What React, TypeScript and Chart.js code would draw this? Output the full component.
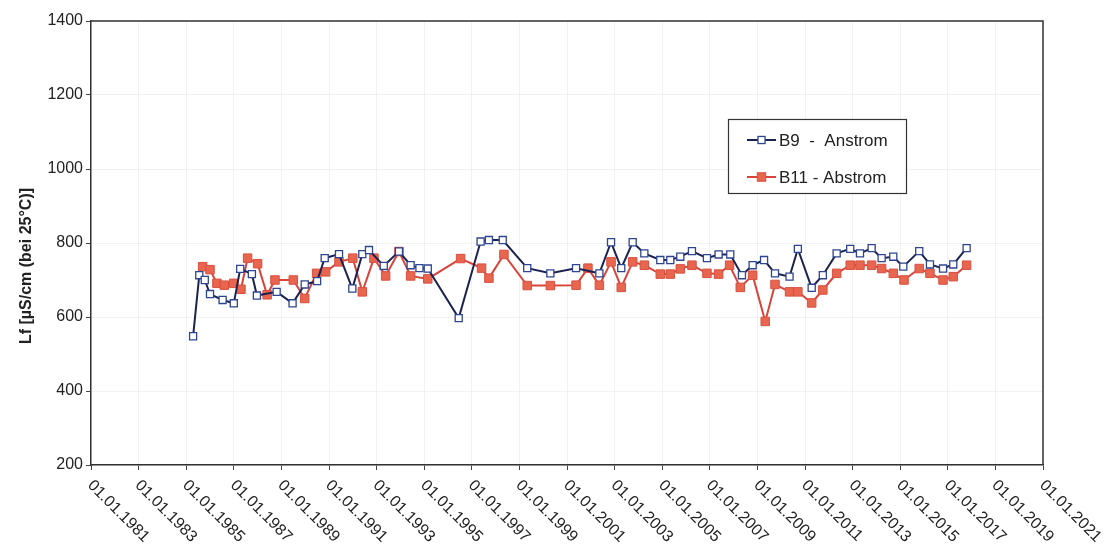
import { useEffect, useRef } from "react";
import { Chart, registerables } from "chart.js";

Chart.register(...registerables);

// ---- data (dates as decimal years) ----
const b9Dates = [
  1985.29, 1985.55, 1985.78, 1986.0, 1986.53, 1987.0, 1987.27, 1987.76, 1987.97, 1988.8,
  1989.47, 1989.98, 1990.5, 1990.82, 1991.42, 1991.98, 1992.4, 1992.68, 1993.3, 1993.94,
  1994.43, 1994.8, 1995.15, 1996.45, 1997.37, 1997.72, 1998.3, 1999.33, 2000.3, 2001.38,
  2002.36, 2002.85, 2003.28, 2003.76, 2004.25, 2004.92, 2005.34, 2005.76, 2006.25, 2006.88,
  2007.37, 2007.86, 2008.35, 2008.8, 2009.28, 2009.74, 2010.35, 2010.7, 2011.28, 2011.75,
  2012.33, 2012.9, 2013.31, 2013.8, 2014.22, 2014.71, 2015.13, 2015.8, 2016.25, 2016.8,
  2017.23, 2017.79,
];
const b9Values = [
  548, 713, 700, 662, 646, 637, 730, 716, 658, 668,
  637, 688, 697, 759, 770, 677, 770, 781, 738, 777,
  740, 732, 731, 597, 804, 808, 808, 732, 718, 732,
  718, 802, 732, 802, 772, 754, 754, 763, 778, 759,
  769, 769, 713, 740, 754, 718, 709, 784, 679, 713,
  772, 784, 772, 786, 759, 763, 736, 778, 742, 731,
  742, 786,
];
const b11Dates = [
  1985.69, 1986.0, 1986.29, 1986.6, 1987.0, 1987.3, 1987.58, 1988.0, 1988.4, 1988.73,
  1989.5, 1989.98, 1990.48, 1990.86, 1991.42, 1992.0, 1992.4, 1992.89, 1993.38, 1993.94,
  1994.43, 1995.15, 1996.53, 1997.41, 1997.72, 1998.35, 1999.33, 2000.3, 2001.38, 2001.88,
  2002.36, 2002.85, 2003.28, 2003.76, 2004.25, 2004.92, 2005.34, 2005.76, 2006.25, 2006.88,
  2007.37, 2007.83, 2008.28, 2008.8, 2009.33, 2009.74, 2010.35, 2010.7, 2011.28, 2011.75,
  2012.33, 2012.9, 2013.31, 2013.8, 2014.22, 2014.71, 2015.16, 2015.8, 2016.25, 2016.8,
  2017.23, 2017.79,
];
const b11Values = [
  736, 728, 691, 686, 691, 675, 759, 744, 660, 700,
  700, 650, 718, 722, 749, 759, 668, 759, 711, 777,
  711, 703, 758, 732, 705, 769, 685, 685, 686, 732,
  686, 749, 680, 749, 740, 716, 716, 730, 740, 718,
  716, 740, 680, 713, 588, 688, 668, 668, 638, 673,
  718, 740, 740, 740, 731, 718, 700, 731, 718, 700,
  709, 740,
];
const xTickYears = [
  1981, 1983, 1985, 1987, 1989, 1991, 1993, 1995, 1997, 1999, 2001,
  2003, 2005, 2007, 2009, 2011, 2013, 2015, 2017, 2019, 2021,
];
const yTickValues = [200, 400, 600, 800, 1000, 1200, 1400];
const seriesNames = ["B9  -  Anstrom", "B11 - Abstrom"];
const yAxisTitle = "Lf [µS/cm (bei 25°C)]";

const FONT = "'Liberation Sans', Arial, Helvetica, sans-serif";
const TEXT = "#222";

const B9_LINE = "#1b2150";
const B9_MARK = "#2e4590";
const B11_LINE = "#d8433a";
const B11_FILL = "#e8654f";
const B11_MARK = "#d9503f";

const decorPlugin = {
  id: "decor",
  afterDraw(chart: any) {
    const ctx = chart.ctx as CanvasRenderingContext2D;
    const area = chart.chartArea;
    const xs = chart.scales.x;

    // frame (top + right)
    ctx.save();
    ctx.strokeStyle = "#333";
    ctx.lineWidth = 1.5;
    ctx.beginPath();
    ctx.moveTo(area.left, area.top);
    ctx.lineTo(area.right, area.top);
    ctx.lineTo(area.right, area.bottom);
    ctx.stroke();
    ctx.restore();

    // rotated x labels starting at the tick
    ctx.save();
    ctx.fillStyle = TEXT;
    ctx.font = `16px ${FONT}`;
    ctx.textAlign = "left";
    ctx.textBaseline = "middle";
    for (const yr of xTickYears) {
      const px = xs.getPixelForValue(yr);
      ctx.save();
      ctx.translate(px - 1, area.bottom + 18);
      ctx.rotate(Math.PI / 4);
      ctx.fillText("01.01." + yr, 0, 0);
      ctx.restore();
    }
    ctx.restore();

    // y axis title
    ctx.save();
    ctx.fillStyle = TEXT;
    ctx.font = `bold 16px ${FONT}`;
    ctx.textAlign = "center";
    ctx.textBaseline = "middle";
    ctx.translate(27, 266);
    ctx.rotate(-Math.PI / 2);
    ctx.fillText(yAxisTitle, 0, 0);
    ctx.restore();

    // legend box
    const bx = 728, by = 119, bw = 178, bh = 74;
    ctx.save();
    ctx.fillStyle = "#fff";
    ctx.fillRect(bx, by, bw, bh);
    ctx.strokeStyle = "#333";
    ctx.lineWidth = 1.2;
    ctx.strokeRect(bx + 0.5, by + 0.5, bw, bh);
    const rows = [140, 177];
    chart.data.datasets.forEach((ds: any, i: number) => {
      const y = rows[i];
      ctx.strokeStyle = ds.borderColor;
      ctx.lineWidth = 2;
      ctx.beginPath();
      ctx.moveTo(747, y);
      ctx.lineTo(776, y);
      ctx.stroke();
      const s = ds.pointRadius * Math.SQRT1_2;
      ctx.fillStyle = ds.pointBackgroundColor;
      ctx.fillRect(761.5 - s, y - s, 2 * s, 2 * s);
      ctx.strokeStyle = ds.pointBorderColor;
      ctx.lineWidth = ds.pointBorderWidth;
      ctx.strokeRect(761.5 - s, y - s, 2 * s, 2 * s);
      ctx.fillStyle = TEXT;
      ctx.font = `17px ${FONT}`;
      ctx.textAlign = "left";
      ctx.textBaseline = "middle";
      ctx.fillText(ds.label, 779, y + 1);
    });
    ctx.restore();
  },
};

export default function App() {
  const ref = useRef<HTMLCanvasElement>(null);

  useEffect(() => {
    const canvas = ref.current;
    if (!canvas) return;
    const chart = new Chart(canvas, {
      type: "line",
      data: {
        datasets: [
          {
            label: seriesNames[0],
            data: b9Dates.map((x, i) => ({ x, y: b9Values[i] })),
            borderColor: B9_LINE,
            borderWidth: 2,
            pointStyle: "rect",
            pointRadius: 5,
            pointBackgroundColor: "#ffffff",
            pointBorderColor: B9_MARK,
            pointBorderWidth: 1.3,
            tension: 0,
            order: 1,
          },
          {
            label: seriesNames[1],
            data: b11Dates.map((x, i) => ({ x, y: b11Values[i] })),
            borderColor: B11_LINE,
            borderWidth: 2,
            pointStyle: "rect",
            pointRadius: 6,
            pointBackgroundColor: B11_FILL,
            pointBorderColor: B11_MARK,
            pointBorderWidth: 1,
            tension: 0,
            order: 2,
          },
        ],
      },
      options: {
        animation: false,
        responsive: false,
        events: [],
        layout: { padding: { left: 0, right: 61, top: 21, bottom: 0 } },
        plugins: {
          legend: { display: false },
          tooltip: { enabled: false },
          title: { display: false },
        },
        scales: {
          x: {
            type: "linear",
            min: 1981,
            max: 2021,
            afterBuildTicks: (s: any) => {
              s.ticks = xTickYears.map((v) => ({ value: v }));
            },
            afterFit: (s: any) => {
              s.height = 84;
            },
            ticks: { display: false },
            grid: {
              color: "rgba(0,0,0,0.05)",
              tickColor: "#444",
              tickLength: 5,
            },
            border: { color: "#333", width: 1.5 },
          },
          y: {
            type: "linear",
            min: 200,
            max: 1400,
            afterBuildTicks: (s: any) => {
              s.ticks = yTickValues.map((v) => ({ value: v }));
            },
            afterFit: (s: any) => {
              s.width = 91;
            },
            ticks: {
              font: { family: FONT, size: 16 },
              color: TEXT,
              padding: 3,
              callback: (v: any) => String(v),
            },
            grid: {
              color: "rgba(0,0,0,0.05)",
              tickColor: "#444",
              tickLength: 5,
            },
            border: { color: "#333", width: 1.5 },
          },
        },
      },
      plugins: [decorPlugin],
    });
    return () => chart.destroy();
  }, []);

  return (
    <div
      style={{
        position: "fixed",
        left: 0,
        top: 0,
        width: 1104,
        height: 549,
        background: "#fff",
      }}
    >
      <canvas ref={ref} width={1104} height={549} style={{ display: "block" }} />
    </div>
  );
}
